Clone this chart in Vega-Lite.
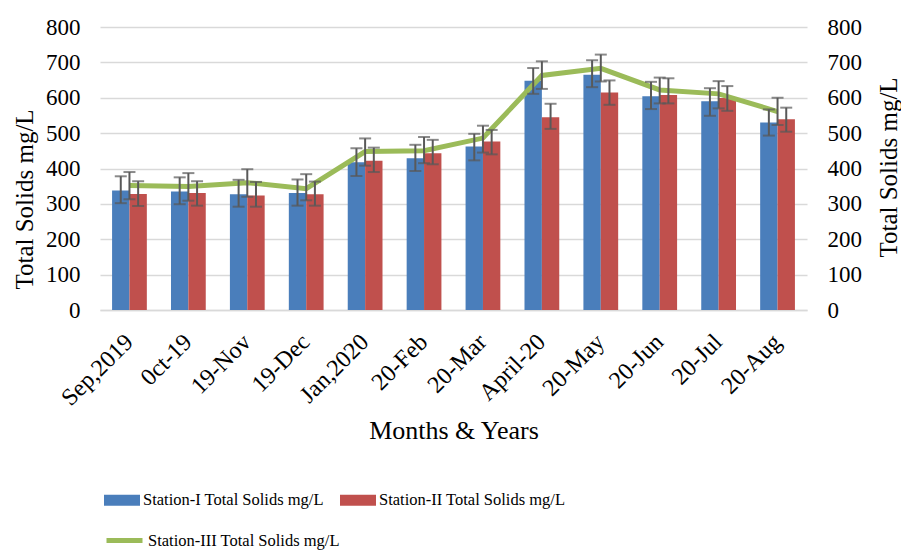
{
  "$schema": "https://vega.github.io/schema/vega-lite/v6.json",
  "width": 707,
  "height": 283,
  "autosize": "none",
  "padding": {"left": 100, "top": 27, "right": 94, "bottom": 242},
  "background": "white",
  "config": {
    "view": {"stroke": null},
    "font": "Liberation Serif",
    "axis": {"labelFont": "Liberation Serif", "titleFont": "Liberation Serif", "labelColor": "black", "titleColor": "black", "titleFontWeight": "normal"},
    "legend": {"labelFont": "Liberation Serif", "labelColor": "black"}
  },
  "data": {
    "values": [
      {"month": "Sep,2019", "series": "Station-I Total Solids mg/L", "value": 338, "lo": 302, "hi": 378},
      {"month": "Sep,2019", "series": "Station-II Total Solids mg/L", "value": 328, "lo": 294, "hi": 364},
      {"month": "Sep,2019", "series": "Station-III Total Solids mg/L", "value": 352, "lo": 313, "hi": 390},
      {"month": "0ct-19", "series": "Station-I Total Solids mg/L", "value": 335, "lo": 299, "hi": 375},
      {"month": "0ct-19", "series": "Station-II Total Solids mg/L", "value": 331, "lo": 295, "hi": 364},
      {"month": "0ct-19", "series": "Station-III Total Solids mg/L", "value": 349, "lo": 309, "hi": 387},
      {"month": "19-Nov", "series": "Station-I Total Solids mg/L", "value": 327, "lo": 292, "hi": 368},
      {"month": "19-Nov", "series": "Station-II Total Solids mg/L", "value": 324, "lo": 292, "hi": 362},
      {"month": "19-Nov", "series": "Station-III Total Solids mg/L", "value": 360, "lo": 320, "hi": 398},
      {"month": "19-Dec", "series": "Station-I Total Solids mg/L", "value": 331, "lo": 295, "hi": 369},
      {"month": "19-Dec", "series": "Station-II Total Solids mg/L", "value": 327, "lo": 295, "hi": 363},
      {"month": "19-Dec", "series": "Station-III Total Solids mg/L", "value": 343, "lo": 310, "hi": 384},
      {"month": "Jan,2020", "series": "Station-I Total Solids mg/L", "value": 418, "lo": 379, "hi": 457},
      {"month": "Jan,2020", "series": "Station-II Total Solids mg/L", "value": 422, "lo": 390, "hi": 459},
      {"month": "Jan,2020", "series": "Station-III Total Solids mg/L", "value": 448, "lo": 408, "hi": 485},
      {"month": "20-Feb", "series": "Station-I Total Solids mg/L", "value": 429, "lo": 393, "hi": 467},
      {"month": "20-Feb", "series": "Station-II Total Solids mg/L", "value": 443, "lo": 412, "hi": 481},
      {"month": "20-Feb", "series": "Station-III Total Solids mg/L", "value": 450, "lo": 415, "hi": 489},
      {"month": "20-Mar", "series": "Station-I Total Solids mg/L", "value": 462, "lo": 423, "hi": 498},
      {"month": "20-Mar", "series": "Station-II Total Solids mg/L", "value": 476, "lo": 440, "hi": 509},
      {"month": "20-Mar", "series": "Station-III Total Solids mg/L", "value": 486, "lo": 445, "hi": 521},
      {"month": "April-20", "series": "Station-I Total Solids mg/L", "value": 648, "lo": 611, "hi": 684},
      {"month": "April-20", "series": "Station-II Total Solids mg/L", "value": 545, "lo": 512, "hi": 583},
      {"month": "April-20", "series": "Station-III Total Solids mg/L", "value": 663, "lo": 625, "hi": 703},
      {"month": "20-May", "series": "Station-I Total Solids mg/L", "value": 665, "lo": 630, "hi": 706},
      {"month": "20-May", "series": "Station-II Total Solids mg/L", "value": 615, "lo": 580, "hi": 649},
      {"month": "20-May", "series": "Station-III Total Solids mg/L", "value": 683, "lo": 646, "hi": 722},
      {"month": "20-Jun", "series": "Station-I Total Solids mg/L", "value": 604, "lo": 568, "hi": 645},
      {"month": "20-Jun", "series": "Station-II Total Solids mg/L", "value": 608, "lo": 584, "hi": 655},
      {"month": "20-Jun", "series": "Station-III Total Solids mg/L", "value": 622, "lo": 584, "hi": 657},
      {"month": "20-Jul", "series": "Station-I Total Solids mg/L", "value": 590, "lo": 549, "hi": 627},
      {"month": "20-Jul", "series": "Station-II Total Solids mg/L", "value": 599, "lo": 563, "hi": 633},
      {"month": "20-Jul", "series": "Station-III Total Solids mg/L", "value": 611, "lo": 570, "hi": 647},
      {"month": "20-Aug", "series": "Station-I Total Solids mg/L", "value": 530, "lo": 493, "hi": 567},
      {"month": "20-Aug", "series": "Station-II Total Solids mg/L", "value": 539, "lo": 504, "hi": 572},
      {"month": "20-Aug", "series": "Station-III Total Solids mg/L", "value": 561, "lo": 523, "hi": 600}
    ]
  },
  "encoding": {
    "x": {
      "field": "month", "type": "nominal", "sort": null,
      "scale": {"paddingInner": 0.41, "paddingOuter": 0.205},
      "axis": {
        "title": "Months & Years", "titleFontSize": 26, "titleY": 120, "titleBaseline": "middle",
        "labelAngle": -45, "labelFontSize": 24, "labelPadding": 28, "labelBaseline": "middle", "labelAlign": "right",
        "ticks": false, "grid": false, "domainColor": "#d9d9d9", "domainWidth": 1.5
      }
    }
  },
  "layer": [
    {
      "transform": [{"filter": "datum.series != 'Station-III Total Solids mg/L'"}],
      "mark": {"type": "bar"},
      "encoding": {
        "xOffset": {"field": "series", "type": "nominal", "scale": {"domain": ["Station-I Total Solids mg/L", "Station-II Total Solids mg/L"], "paddingInner": 0, "paddingOuter": 0}},
        "y": {
          "field": "value", "type": "quantitative",
          "scale": {"domain": [0, 800], "nice": false},
          "axis": {
            "orient": "left", "values": [0, 100, 200, 300, 400, 500, 600, 700, 800],
            "title": "Total Solids mg/L", "titleFontSize": 25, "titleAngle": 270, "titleBaseline": "middle", "titleX": -76, "titleY": 172,
            "labelFontSize": 23, "labelPadding": 20, "ticks": false, "domain": false,
            "grid": true, "gridColor": "#d9d9d9", "gridWidth": 1.5
          }
        },
        "color": {
          "field": "series", "type": "nominal",
          "scale": {"domain": ["Station-I Total Solids mg/L", "Station-II Total Solids mg/L"], "range": ["#4a7ebb", "#c0504d"]},
          "legend": {
            "orient": "none", "legendX": 4, "legendY": 455, "direction": "horizontal", "title": null,
            "symbolType": "M-1,-0.3L1,-0.3L1,0.3L-1,0.3Z", "symbolSize": 1296, "symbolStrokeWidth": 0,
            "labelFontSize": 16.5, "labelOffset": 3, "columnPadding": 16, "labelLimit": 400
          }
        }
      }
    },
    {
      "transform": [{"filter": "datum.series == 'Station-III Total Solids mg/L'"}],
      "mark": {"type": "line", "strokeWidth": 5},
      "encoding": {
        "y": {
          "field": "value", "type": "quantitative",
          "scale": {"domain": [0, 800], "nice": false},
          "axis": {
            "orient": "right", "values": [0, 100, 200, 300, 400, 500, 600, 700, 800],
            "title": "Total Solids mg/L", "titleFontSize": 25, "titleAngle": 270, "titleBaseline": "middle", "titleX": 81, "titleY": 140,
            "labelFontSize": 23, "labelPadding": 20, "ticks": false, "domain": false, "grid": false
          }
        },
        "stroke": {
          "field": "series", "type": "nominal",
          "scale": {"domain": ["Station-III Total Solids mg/L"], "range": ["#9bbb59"]},
          "legend": {
            "orient": "none", "legendX": 4, "legendY": 493, "title": null,
            "symbolType": "stroke", "symbolSize": 1296, "symbolStrokeWidth": 5,
            "labelFontSize": 16.5, "labelOffset": 3, "labelLimit": 400
          }
        }
      }
    },
    {
      "transform": [{"filter": "datum.series != 'Station-III Total Solids mg/L'"}],
      "mark": {"type": "rule", "color": "#595959", "strokeWidth": 2},
      "encoding": {
        "xOffset": {"field": "series", "type": "nominal"},
        "y": {"field": "lo", "type": "quantitative", "axis": null},
        "y2": {"field": "hi"}
      }
    },
    {
      "transform": [{"filter": "datum.series != 'Station-III Total Solids mg/L'"}],
      "mark": {"type": "tick", "color": "#595959", "thickness": 2, "size": 12},
      "encoding": {
        "xOffset": {"field": "series", "type": "nominal"},
        "y": {"field": "lo", "type": "quantitative", "axis": null}
      }
    },
    {
      "transform": [{"filter": "datum.series != 'Station-III Total Solids mg/L'"}],
      "mark": {"type": "tick", "color": "#595959", "thickness": 2, "size": 12},
      "encoding": {
        "xOffset": {"field": "series", "type": "nominal"},
        "y": {"field": "hi", "type": "quantitative", "axis": null}
      }
    },
    {
      "transform": [{"filter": "datum.series == 'Station-III Total Solids mg/L'"}],
      "mark": {"type": "rule", "color": "#595959", "strokeWidth": 2},
      "encoding": {
        "y": {"field": "lo", "type": "quantitative", "axis": null},
        "y2": {"field": "hi"}
      }
    },
    {
      "transform": [{"filter": "datum.series == 'Station-III Total Solids mg/L'"}],
      "mark": {"type": "tick", "color": "#595959", "thickness": 2, "size": 12},
      "encoding": {
        "y": {"field": "lo", "type": "quantitative", "axis": null}
      }
    },
    {
      "transform": [{"filter": "datum.series == 'Station-III Total Solids mg/L'"}],
      "mark": {"type": "tick", "color": "#595959", "thickness": 2, "size": 12},
      "encoding": {
        "y": {"field": "hi", "type": "quantitative", "axis": null}
      }
    }
  ],
  "resolve": {"axis": {"y": "independent"}}
}
